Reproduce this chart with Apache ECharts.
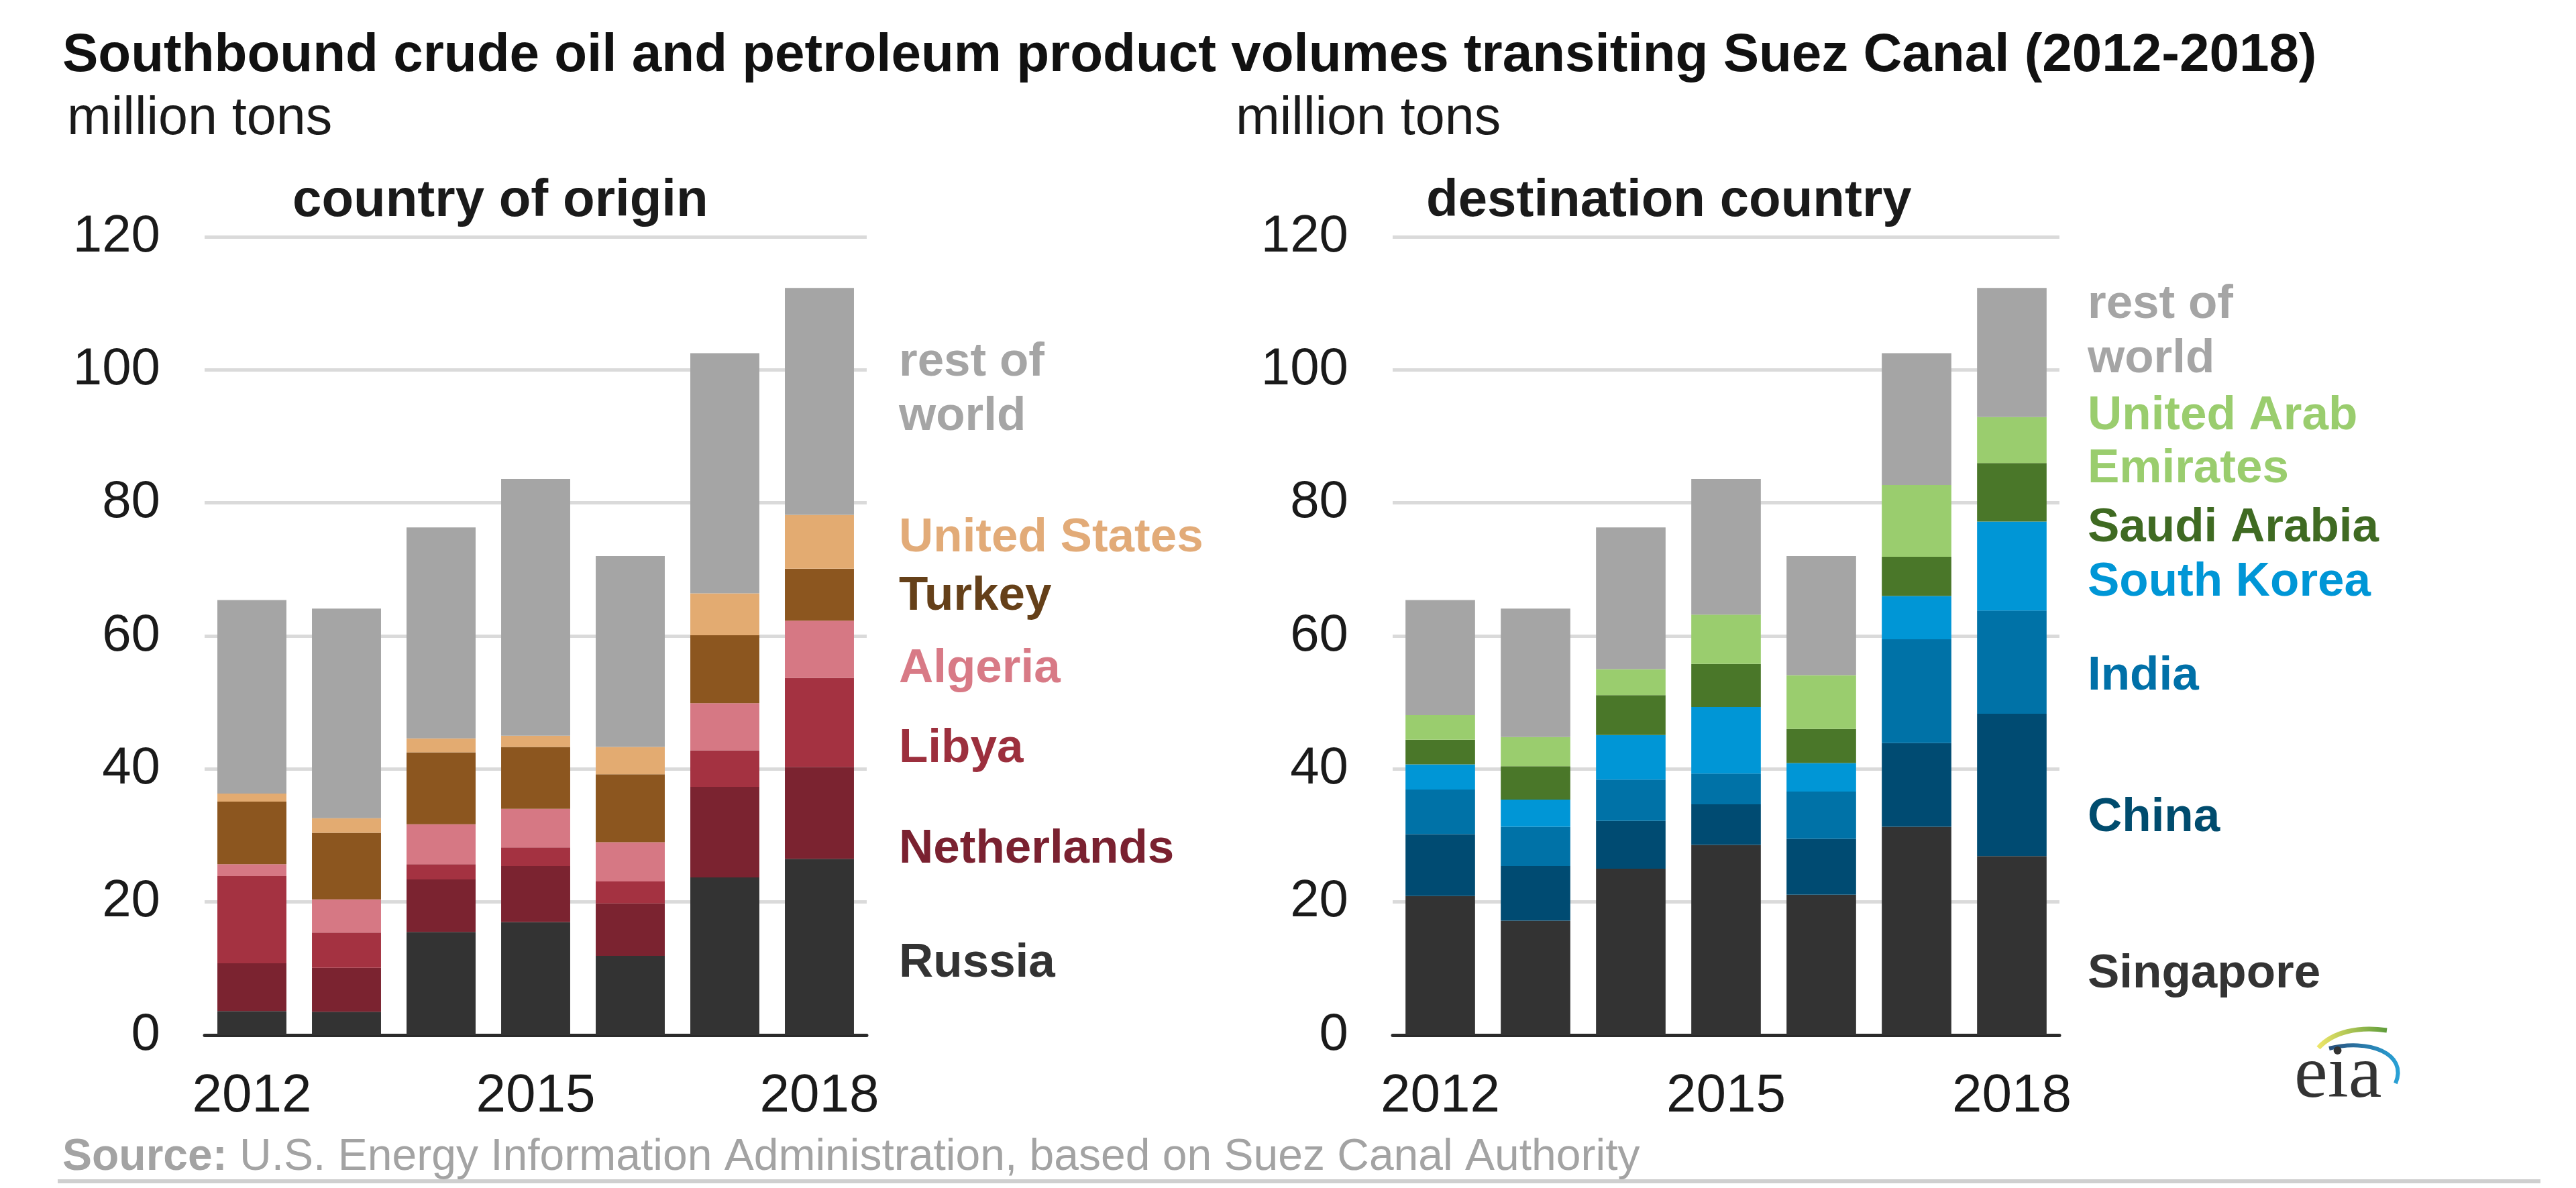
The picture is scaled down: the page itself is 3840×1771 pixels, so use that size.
<!DOCTYPE html>
<html>
<head>
<meta charset="utf-8">
<script src="https://cdn.jsdelivr.net/npm/echarts@6/dist/echarts.min.js"></script>
<style>
html,body{margin:0;padding:0;background:#fff;}
#chart{width:3840px;height:1771px;}
</style>
</head>
<body>
<div id="chart"></div>
<script>
// ---- data ----
const years = ['2012','2013','2014','2015','2016','2017','2018'];
const yTicks = { min: 0, max: 120, interval: 20 };

// country of origin (million tons)
const originNames = ['Russia','Netherlands','Libya','Algeria','Turkey','United States','rest of world'];
const russia       = [3.6, 3.5, 15.5, 17.0, 11.9, 23.7, 26.5];
const netherlands  = [7.2, 6.6, 7.9, 8.4, 7.9, 13.6, 13.8];
const libya        = [13.1, 5.3, 2.3, 2.8, 3.3, 5.5, 13.4];
const algeria      = [1.8, 5.0, 6.0, 5.8, 5.9, 7.1, 8.6];
const turkey       = [9.4, 10.0, 10.8, 9.3, 10.2, 10.2, 7.8];
const unitedStates = [1.2, 2.2, 2.1, 1.7, 4.1, 6.3, 8.1];
const restOrigin   = [29.1, 31.5, 31.7, 38.6, 28.7, 36.1, 34.1];

// destination country (million tons)
const destNames = ['Singapore','China','India','South Korea','Saudi Arabia','United Arab Emirates','rest of world'];
const singapore   = [20.9, 17.2, 25.0, 28.6, 21.1, 31.3, 26.9];
const china       = [9.3, 8.2, 7.2, 6.1, 8.4, 12.6, 21.4];
const india       = [6.7, 5.9, 6.2, 4.6, 7.1, 15.6, 15.5];
const southKorea  = [3.8, 4.1, 6.7, 10.0, 4.3, 6.5, 13.4];
const saudiArabia = [3.7, 5.0, 6.0, 6.5, 5.1, 5.9, 8.8];
const uae         = [3.7, 4.4, 3.9, 7.4, 8.1, 10.8, 6.9];
const restDest    = [17.3, 19.3, 21.3, 20.4, 17.9, 19.8, 19.4];

// ---- styling ----
const FONT = "'Liberation Sans', Arial, Helvetica, sans-serif";
const originColors = ['#333333','#7b2330','#a43241','#d67884','#8c561f','#e3ab71','#a5a5a5'];
const destColors   = ['#333333','#004b72','#0072a7','#0096d6','#4a7729','#9acd6e','#a5a5a5'];
const originData = [russia, netherlands, libya, algeria, turkey, unitedStates, restOrigin];
const destData   = [singapore, china, india, southKorea, saudiArabia, uae, restDest];

const chart = echarts.init(document.getElementById('chart'), null, {renderer: 'canvas'});

function xAxisCfg(gi) {
  return {
    type: 'category', gridIndex: gi, data: years,
    axisTick: {show: false},
    axisLine: {show: true, lineStyle: {color: '#2b2b2b', width: 5}},
    axisLabel: {interval: 2, margin: 52, fontSize: 80, color: '#1a1a1a', fontFamily: FONT}
  };
}
function yAxisCfg(gi) {
  return {
    type: 'value', gridIndex: gi, min: yTicks.min, max: yTicks.max, interval: yTicks.interval,
    axisLine: {show: false}, axisTick: {show: false},
    axisLabel: {margin: 66, fontSize: 78, color: '#1a1a1a', fontFamily: FONT},
    splitLine: {show: true, lineStyle: {color: '#dadada', width: 5}}
  };
}

const series = [];
originData.forEach((arr, i) => {
  series.push({
    name: originNames[i], type: 'bar', stack: 'origin', xAxisIndex: 0, yAxisIndex: 0,
    data: arr, barCategoryGap: '27%', itemStyle: {color: originColors[i]}, silent: true
  });
});
destData.forEach((arr, i) => {
  series.push({
    name: destNames[i], type: 'bar', stack: 'dest', xAxisIndex: 1, yAxisIndex: 1,
    data: arr, barCategoryGap: '27%', itemStyle: {color: destColors[i]}, silent: true
  });
});

function txt(text, x, y, size, color, bold, align) {
  return {
    type: 'text', x: x, y: y, silent: true,
    style: {
      text: text, fill: color, align: align || 'left', verticalAlign: 'middle',
      font: (bold ? 'bold ' : '') + size + 'px ' + FONT
    }
  };
}

const LBL = 71;
const graphics = [
  txt('Southbound crude oil and petroleum product volumes transiting Suez Canal (2012-2018)', 93, 84, 80, '#111111', true),
  txt('million tons', 100, 178, 79, '#1a1a1a', false),
  txt('million tons', 1842, 178, 79, '#1a1a1a', false),
  txt('country of origin', 436, 300, 78, '#1a1a1a', true),
  txt('destination country', 2126, 300, 78, '#1a1a1a', true),
  // origin labels
  txt('rest of', 1340, 540, LBL, '#a5a5a5', true),
  txt('world', 1340, 621, LBL, '#a5a5a5', true),
  txt('United States', 1340, 802, LBL, '#e2ab78', true),
  txt('Turkey', 1340, 889, LBL, '#654019', true),
  txt('Algeria', 1340, 997, LBL, '#d87a86', true),
  txt('Libya', 1340, 1116, LBL, '#9c2f3d', true),
  txt('Netherlands', 1340, 1266, LBL, '#7a2130', true),
  txt('Russia', 1340, 1436, LBL, '#333333', true),
  // destination labels
  txt('rest of', 3112, 454, LBL, '#a5a5a5', true),
  txt('world', 3112, 535, LBL, '#a5a5a5', true),
  txt('United Arab', 3112, 620, LBL, '#9acd6e', true),
  txt('Emirates', 3112, 699, LBL, '#9acd6e', true),
  txt('Saudi Arabia', 3112, 787, LBL, '#3f6a22', true),
  txt('South Korea', 3112, 868, LBL, '#0096d6', true),
  txt('India', 3112, 1008, LBL, '#0070a8', true),
  txt('China', 3112, 1219, LBL, '#004c6e', true),
  txt('Singapore', 3112, 1452, LBL, '#333333', true),
  // source
  {
    type: 'text', x: 93, y: 1726, silent: true,
    style: {
      text: '{b|Source:} U.S. Energy Information Administration, based on Suez Canal Authority',
      fill: '#a3a3a3', verticalAlign: 'middle', font: '66px ' + FONT,
      rich: {b: {fontWeight: 'bold', fontSize: 66, fontFamily: FONT, fill: '#a3a3a3'}}
    }
  },
  // bottom rule
  {type: 'line', silent: true, shape: {x1: 86, y1: 1761, x2: 3787, y2: 1761},
   style: {stroke: '#cfcfcf', lineWidth: 6}},
  // eia logo
  {type: 'bezierCurve', silent: true,
   shape: {x1: 3456, y1: 1562, cpx1: 3478, cpy1: 1538, cpx2: 3515, cpy2: 1530, x2: 3558, y2: 1536},
   style: {stroke: new echarts.graphic.LinearGradient(0, 0, 1, 0, [{offset: 0, color: '#f2e86a'}, {offset: 1, color: '#5a9a3a'}]), lineWidth: 7, fill: null}},
  {type: 'bezierCurve', silent: true,
   shape: {x1: 3472, y1: 1563, cpx1: 3530, cpy1: 1548, cpx2: 3590, cpy2: 1570, x2: 3571, y2: 1615},
   style: {stroke: new echarts.graphic.LinearGradient(0, 0, 1, 0, [{offset: 0, color: '#2a4f7a'}, {offset: 1, color: '#29a3d8'}]), lineWidth: 6, fill: null}},
  {type: 'text', x: 3420, y: 1606, silent: true,
   style: {text: 'eia', fill: '#333333', align: 'left', verticalAlign: 'middle',
           font: '112px "Liberation Serif", "DejaVu Serif", serif'}}
];

chart.setOption({
  animation: false,
  backgroundColor: '#ffffff',
  grid: [
    {left: 305, top: 353, width: 987, height: 1190, containLabel: false},
    {left: 2076, top: 353, width: 994, height: 1190, containLabel: false}
  ],
  xAxis: [xAxisCfg(0), xAxisCfg(1)],
  yAxis: [yAxisCfg(0), yAxisCfg(1)],
  series: series,
  graphic: graphics
});
</script>
</body>
</html>
